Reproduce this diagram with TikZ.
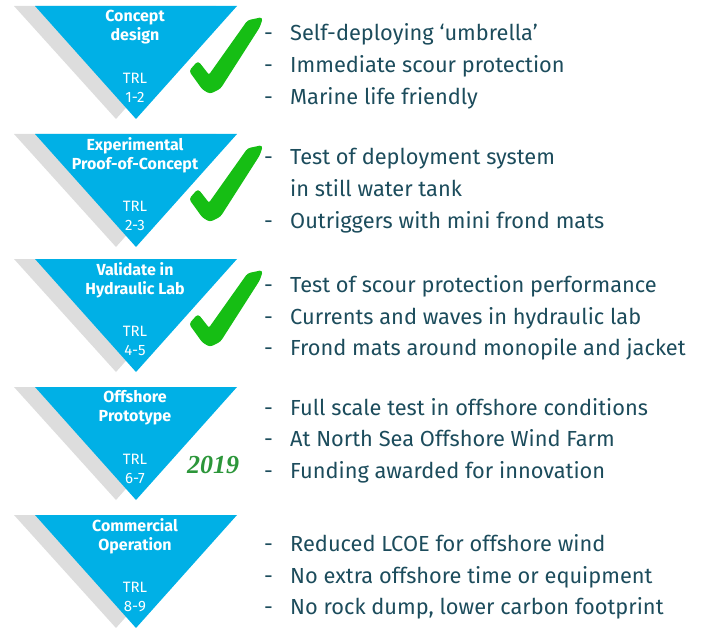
\documentclass[tikz,border=0pt]{standalone}
\usepackage{fontspec}
\setmainfont{Fira Sans}
\newfontfamily\yearfont{Liberation Serif}
\usetikzlibrary{positioning}

\definecolor{stageblue}{RGB}{0,176,230}
\definecolor{shadowgray}{RGB}{221,221,221}
\definecolor{itemtext}{RGB}{28,76,92}
\definecolor{tickgreen}{RGB}{22,190,20}
\definecolor{yeargreen}{RGB}{44,150,58}

\begin{document}
\begin{tikzpicture}[x=1pt,y=-1pt,
stage/.style={fill=stageblue},
stageshadow/.style={fill=shadowgray},
stagetitle/.style={font=\fontsize{16}{19}\selectfont\bfseries, text=white, align=center, inner sep=0pt},
stagetrl/.style={font=\fontsize{15}{19}\selectfont, text=white, align=center, inner sep=0pt},
item/.style={font=\fontsize{21.8}{32}\selectfont, text=itemtext, anchor=west, inner sep=0pt, text height=0.75em, text depth=0.25em},
itemdash/.style={item},
tick/.style={fill=tickgreen, draw=tickgreen, line width=1.6pt, line join=round, rounded corners=2.5pt},
year/.style={font=\fontsize{26}{26}\selectfont\yearfont\bfseries\itshape, text=yeargreen, inner sep=0pt}]

\useasboundingbox (0,0) rectangle (703,628);

% stages
\foreach \t/\name/\ttl/\lvl in {6/concept/{Concept\\design}/1-2,
  134/proof/{Experimental\\Proof-of-Concept}/2-3,
  259/lab/{Validate in\\Hydraulic Lab}/4-5,
  387/proto/{Offshore\\Prototype}/6-7,
  515/comm/{Commercial\\Operation}/8-9} {
  \fill[stageshadow] (14,\t) -- (216,\t) -- (116,\t+113) -- cycle;
  \fill[stage] (35,\t) -- (237,\t) -- (136,\t+113) -- cycle;
  \node[stagetitle] (\name-title) at (135,\t+21) {\ttl};
  \node[stagetrl] (\name-trl) at (135,\t+82) {TRL\\\lvl};
}

% ticks for the stages done
\foreach \t in {0,128,253}
  \filldraw[tick, shift={(0,\t)}] (190,71) -- (198,62) -- (209,76) -- (248,21) -- (262,18)
    -- (259,27) -- (220,88) -- (210,93) -- (203,89) -- cycle;

\node[year] (year) at (213,465) {2019};

% bullet lines
\foreach \y/\txt [count=\i] in {38/Self-deploying ‘umbrella’,
  70/Immediate scour protection,
  102/Marine life friendly,
  162/Test of deployment system,
  226/Outriggers with mini frond mats,
  290/Test of scour protection performance,
  322/Currents and waves in hydraulic lab,
  353/Frond mats around monopile and jacket,
  413/Full scale test in offshore conditions,
  444/At North Sea Offshore Wind Farm,
  476/Funding awarded for innovation,
  549/Reduced LCOE for offshore wind,
  581/No extra offshore time or equipment,
  612/{No rock dump, lower carbon footprint}} {
  \node[itemdash] (dash\i) at (264,\y) {-};
  \node[item] (line\i) at (290,\y) {\txt};
}
\node[item] (line4b) at (line4.west |- 0,194) {in still water tank};
\end{tikzpicture}
\end{document}
